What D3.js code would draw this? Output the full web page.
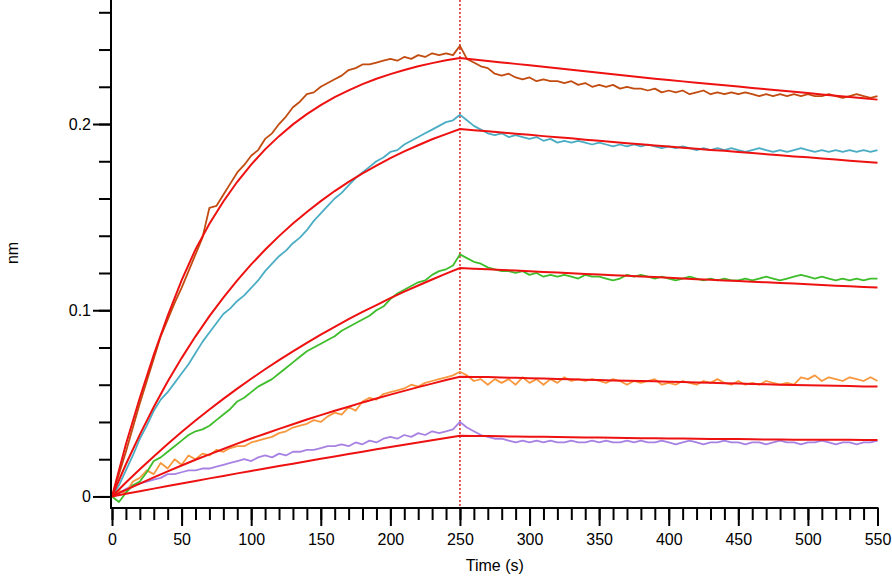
<!DOCTYPE html>
<html>
<head>
<meta charset="utf-8">
<script src="https://cdn.jsdelivr.net/npm/d3@7"></script>
<style>
    body { margin: 0; background: #fff; }
    svg text { font-family: "Liberation Sans", Arial, sans-serif; fill: #000; }
</style>
</head>
<body>
<div id="chart"></div>
<script>
// sampling grids (s)
const dataTimes = d3.range(0, 551, 5);
const fitTimes = d3.range(0, 551, 10);

// measured response (nm), one value every 5 s
const brownData = [0.000, 0.012, 0.024, 0.037, 0.050, 0.062, 0.074, 0.086, 0.095, 0.104,
    0.112, 0.121, 0.130, 0.139, 0.155, 0.156, 0.162, 0.168, 0.174, 0.178,
    0.183, 0.186, 0.192, 0.195, 0.200, 0.204, 0.209, 0.212, 0.216, 0.217,
    0.220, 0.222, 0.224, 0.226, 0.229, 0.230, 0.232, 0.232, 0.233, 0.234,
    0.235, 0.234, 0.236, 0.235, 0.237, 0.236, 0.238, 0.237, 0.238, 0.237,
    0.242, 0.235, 0.233, 0.231, 0.230, 0.227, 0.226, 0.227, 0.225, 0.224,
    0.225, 0.223, 0.224, 0.223, 0.223, 0.222, 0.223, 0.221, 0.222, 0.220,
    0.221, 0.220, 0.221, 0.219, 0.220, 0.219, 0.219, 0.218, 0.219, 0.217,
    0.218, 0.217, 0.218, 0.216, 0.217, 0.218, 0.216, 0.217, 0.216, 0.217,
    0.216, 0.217, 0.216, 0.215, 0.216, 0.215, 0.216, 0.215, 0.216, 0.215,
    0.216, 0.215, 0.215, 0.216, 0.215, 0.214, 0.215, 0.216, 0.215, 0.214, 0.215];

const cyanData = [0.000, 0.006, 0.014, 0.022, 0.031, 0.038, 0.046, 0.052, 0.056, 0.061,
    0.066, 0.071, 0.077, 0.083, 0.088, 0.093, 0.098, 0.101, 0.105, 0.108,
    0.112, 0.116, 0.121, 0.125, 0.129, 0.132, 0.136, 0.139, 0.143, 0.148,
    0.152, 0.156, 0.160, 0.163, 0.167, 0.171, 0.174, 0.177, 0.180, 0.182,
    0.185, 0.186, 0.189, 0.191, 0.193, 0.195, 0.197, 0.199, 0.201, 0.202,
    0.205, 0.202, 0.199, 0.197, 0.195, 0.194, 0.195, 0.193, 0.194, 0.193,
    0.192, 0.193, 0.191, 0.192, 0.190, 0.191, 0.190, 0.191, 0.190, 0.189,
    0.190, 0.189, 0.188, 0.189, 0.188, 0.189, 0.188, 0.189, 0.188, 0.187,
    0.188, 0.187, 0.188, 0.187, 0.186, 0.187, 0.186, 0.187, 0.186, 0.187,
    0.186, 0.185, 0.186, 0.187, 0.186, 0.185, 0.186, 0.185, 0.186, 0.187,
    0.186, 0.185, 0.186, 0.185, 0.186, 0.185, 0.186, 0.185, 0.186, 0.185, 0.186];

const greenData = [0.000, -0.003, 0.002, 0.006, 0.008, 0.013, 0.019, 0.021, 0.024, 0.027,
    0.030, 0.033, 0.035, 0.036, 0.038, 0.041, 0.044, 0.047, 0.051, 0.053,
    0.056, 0.059, 0.061, 0.063, 0.066, 0.069, 0.072, 0.075, 0.078, 0.080,
    0.082, 0.084, 0.086, 0.089, 0.091, 0.093, 0.095, 0.097, 0.100, 0.102,
    0.106, 0.109, 0.111, 0.113, 0.115, 0.116, 0.119, 0.121, 0.122, 0.124,
    0.130, 0.128, 0.126, 0.125, 0.123, 0.122, 0.121, 0.121, 0.120, 0.121,
    0.119, 0.120, 0.118, 0.119, 0.118, 0.119, 0.118, 0.117, 0.119, 0.118,
    0.118, 0.117, 0.116, 0.117, 0.119, 0.118, 0.119, 0.118, 0.117, 0.118,
    0.117, 0.116, 0.117, 0.118, 0.117, 0.116, 0.117, 0.116, 0.117, 0.116,
    0.116, 0.117, 0.116, 0.117, 0.118, 0.117, 0.116, 0.117, 0.118, 0.119,
    0.118, 0.117, 0.118, 0.117, 0.116, 0.117, 0.116, 0.117, 0.116, 0.117, 0.117];

const orangeData = [0.000, 0.003, 0.002, 0.008, 0.010, 0.014, 0.012, 0.018, 0.015, 0.020,
    0.017, 0.022, 0.020, 0.023, 0.022, 0.025, 0.024, 0.026, 0.027, 0.027,
    0.029, 0.030, 0.031, 0.032, 0.034, 0.035, 0.037, 0.038, 0.039, 0.041,
    0.040, 0.043, 0.045, 0.044, 0.048, 0.046, 0.051, 0.053, 0.052, 0.055,
    0.056, 0.057, 0.058, 0.060, 0.059, 0.061, 0.062, 0.063, 0.064, 0.065,
    0.067, 0.065, 0.062, 0.063, 0.060, 0.063, 0.061, 0.063, 0.060, 0.064,
    0.061, 0.063, 0.060, 0.063, 0.061, 0.064, 0.062, 0.063, 0.062, 0.063,
    0.062, 0.061, 0.063, 0.062, 0.060, 0.062, 0.061, 0.062, 0.063, 0.060,
    0.061, 0.060, 0.062, 0.061, 0.060, 0.062, 0.061, 0.063, 0.061, 0.060,
    0.062, 0.060, 0.061, 0.060, 0.062, 0.061, 0.060, 0.061, 0.060, 0.064,
    0.063, 0.065, 0.062, 0.064, 0.063, 0.062, 0.064, 0.063, 0.062, 0.064, 0.062];

const purpleData = [0.000, 0.002, 0.004, 0.006, 0.007, 0.008, 0.009, 0.010, 0.012, 0.012,
    0.013, 0.014, 0.014, 0.015, 0.015, 0.016, 0.017, 0.018, 0.019, 0.020,
    0.019, 0.021, 0.022, 0.021, 0.023, 0.022, 0.024, 0.024, 0.025, 0.025,
    0.026, 0.027, 0.027, 0.028, 0.027, 0.029, 0.028, 0.030, 0.029, 0.031,
    0.032, 0.031, 0.033, 0.032, 0.034, 0.033, 0.035, 0.034, 0.035, 0.036,
    0.040, 0.037, 0.035, 0.033, 0.032, 0.031, 0.031, 0.030, 0.029, 0.030,
    0.029, 0.030, 0.029, 0.030, 0.029, 0.029, 0.030, 0.029, 0.029, 0.030,
    0.029, 0.030, 0.029, 0.029, 0.030, 0.029, 0.030, 0.029, 0.029, 0.030,
    0.029, 0.028, 0.029, 0.030, 0.029, 0.028, 0.029, 0.029, 0.030, 0.029,
    0.029, 0.028, 0.029, 0.029, 0.028, 0.029, 0.030, 0.029, 0.029, 0.028,
    0.029, 0.029, 0.030, 0.029, 0.028, 0.029, 0.029, 0.028, 0.029, 0.029, 0.030];

// fitted curves (nm), one value every 10 s
const brownFit = [0, 0.028, 0.053, 0.076, 0.097, 0.116, 0.1327, 0.1464, 0.1584, 0.1690,
    0.1782, 0.1864, 0.1935, 0.1998, 0.2053, 0.2101, 0.2144, 0.2181, 0.2214, 0.2243,
    0.2268, 0.2290, 0.2310, 0.2327, 0.2342, 0.2355, 0.2347, 0.2339, 0.2331, 0.2323,
    0.2315, 0.2307, 0.2299, 0.2291, 0.2283, 0.2275, 0.2267, 0.2259, 0.2251, 0.2243,
    0.2236, 0.2229, 0.2222, 0.2215, 0.2208, 0.2201, 0.2194, 0.2187, 0.2180, 0.2173,
    0.2166, 0.2159, 0.2152, 0.2145, 0.2138, 0.2131];

const cyanFit = [0, 0.0173, 0.0332, 0.0480, 0.0617, 0.0743, 0.0860, 0.0968, 0.1068, 0.1160,
    0.1246, 0.1325, 0.1398, 0.1466, 0.1528, 0.1586, 0.1640, 0.1689, 0.1735, 0.1777,
    0.1817, 0.1853, 0.1886, 0.1918, 0.1946, 0.1973, 0.1967, 0.1961, 0.1954, 0.1948,
    0.1942, 0.1935, 0.1929, 0.1923, 0.1916, 0.1910, 0.1904, 0.1897, 0.1891, 0.1885,
    0.1879, 0.1873, 0.1867, 0.1861, 0.1856, 0.1850, 0.1844, 0.1838, 0.1832, 0.1826,
    0.1821, 0.1815, 0.1809, 0.1803, 0.1798, 0.1792];

const greenFit = [0, 0.0075, 0.0146, 0.0215, 0.0282, 0.0346, 0.0408, 0.0467, 0.0524, 0.0579,
    0.0632, 0.0683, 0.0732, 0.0779, 0.0825, 0.0869, 0.0911, 0.0952, 0.0991, 0.1028,
    0.1065, 0.1100, 0.1133, 0.1165, 0.1197, 0.1227, 0.1223, 0.1220, 0.1216, 0.1213,
    0.1209, 0.1206, 0.1202, 0.1199, 0.1195, 0.1192, 0.1188, 0.1185, 0.1181, 0.1178,
    0.1174, 0.1171, 0.1167, 0.1164, 0.1160, 0.1157, 0.1153, 0.1150, 0.1146, 0.1143,
    0.1139, 0.1136, 0.1132, 0.1129, 0.1125, 0.1122];

const orangeFit = [0, 0.0035, 0.0069, 0.0102, 0.0135, 0.0166, 0.0197, 0.0226, 0.0255, 0.0284,
    0.0311, 0.0337, 0.0363, 0.0388, 0.0413, 0.0437, 0.0460, 0.0482, 0.0505, 0.0526,
    0.0547, 0.0567, 0.0587, 0.0606, 0.0625, 0.0643, 0.0642, 0.0641, 0.0639, 0.0637,
    0.0635, 0.0633, 0.0631, 0.0629, 0.0627, 0.0625, 0.0623, 0.0621, 0.0620, 0.0618,
    0.0616, 0.0614, 0.0612, 0.0610, 0.0608, 0.0606, 0.0604, 0.0602, 0.0600, 0.0599,
    0.0597, 0.0596, 0.0594, 0.0593, 0.0591, 0.0590];

const purpleFit = [0, 0.0014, 0.0028, 0.0042, 0.0056, 0.0070, 0.0083, 0.0097, 0.0110, 0.0124,
    0.0137, 0.0150, 0.0163, 0.0176, 0.0189, 0.0202, 0.0215, 0.0228, 0.0240, 0.0253,
    0.0265, 0.0278, 0.0290, 0.0302, 0.0314, 0.0326, 0.0325, 0.0324, 0.0323, 0.0322,
    0.0321, 0.0320, 0.0319, 0.0318, 0.0317, 0.0316, 0.0315, 0.0314, 0.0313, 0.0312,
    0.0311, 0.0311, 0.0310, 0.0309, 0.0308, 0.0308, 0.0307, 0.0306, 0.0306, 0.0305,
    0.0305, 0.0304, 0.0304, 0.0304, 0.0303, 0.0303];

const dataSeries = [purpleData, orangeData, greenData, cyanData, brownData];
const dataColors = ["#a882e3", "#f7983f", "#3fbd2c", "#4badc4", "#c24b10"];
const fitSeries = [purpleFit, orangeFit, greenFit, cyanFit, brownFit];

const xMajorTicks = [0, 50, 100, 150, 200, 250, 300, 350, 400, 450, 500, 550];
const yMajorTicks = [0, 0.1, 0.2];
const yMinorTicks = [0, 0.02, 0.04, 0.06, 0.08, 0.1, 0.12, 0.14, 0.16, 0.18, 0.2, 0.22, 0.24, 0.26];
const injectionEnd = 250;

const width = 892;
const height = 577;
const axisX = 111;
const axisY = 508;

const svg = d3.select('#chart').append('svg')
    .attr('width', width)
    .attr('height', height);

const x = d3.scaleLinear().domain([0, 550]).range([112, 877.5]);
const y = d3.scaleLinear().domain([-0.0062, 0.2666]).range([axisY, 0]);

// dotted marker at end of association
svg.append('line')
    .attr('x1', x(injectionEnd)).attr('x2', x(injectionEnd))
    .attr('y1', 0).attr('y2', axisY)
    .attr('stroke', '#d40000')
    .attr('stroke-width', 1.3)
    .attr('stroke-dasharray', '2,2');

// measured traces
dataSeries.forEach((values, i) => {
    svg.append('path')
        .datum(values)
        .attr('fill', 'none')
        .attr('stroke', dataColors[i])
        .attr('stroke-width', 1.8)
        .attr('stroke-linejoin', 'round')
        .attr('d', d3.line()
            .x((d, j) => x(dataTimes[j]))
            .y((d) => y(d)));
});

// fitted curves on top
fitSeries.forEach((values) => {
    svg.append('path')
        .datum(values)
        .attr('fill', 'none')
        .attr('stroke', '#ee1111')
        .attr('stroke-width', 2)
        .attr('d', d3.line()
            .x((d, j) => x(fitTimes[j]))
            .y((d) => y(d)));
});

// x axis: minor ticks every 10 s, major every 50 s
const xMinor = svg.append('g')
    .attr('transform', 'translate(0,' + axisY + ')')
    .call(d3.axisBottom(x).tickValues(fitTimes).tickSize(12).tickFormat(''));
const xMajor = svg.append('g')
    .attr('transform', 'translate(0,' + axisY + ')')
    .call(d3.axisBottom(x).tickValues(xMajorTicks).tickSize(18).tickPadding(8).tickFormat(d3.format('d')));

// y axis
const yMinor = svg.append('g')
    .attr('transform', 'translate(' + axisX + ',0)')
    .call(d3.axisLeft(y).tickValues(yMinorTicks).tickSize(12).tickFormat(''));
const yMajor = svg.append('g')
    .attr('transform', 'translate(' + axisX + ',0)')
    .call(d3.axisLeft(y).tickValues(yMajorTicks).tickSize(18).tickPadding(2)
        .tickFormat((d) => d === 0 ? '0' : d3.format('.1f')(d)));

[xMinor, xMajor, yMinor, yMajor].forEach((g) => {
    g.select('.domain').remove();
    g.selectAll('line').attr('stroke', '#000').attr('stroke-width', 2);
    g.selectAll('text').attr('font-size', 16).attr('fill', '#000');
});

// axis lines
svg.append('line')
    .attr('x1', axisX).attr('x2', x(550) + 1)
    .attr('y1', axisY).attr('y2', axisY)
    .attr('stroke', '#000').attr('stroke-width', 2);
svg.append('line')
    .attr('x1', axisX).attr('x2', axisX)
    .attr('y1', 0).attr('y2', axisY + 1)
    .attr('stroke', '#000').attr('stroke-width', 2);

// axis titles
svg.append('text')
    .attr('x', (x(0) + x(550)) / 2)
    .attr('y', 571)
    .attr('text-anchor', 'middle')
    .attr('font-size', 16)
    .text('Time (s)');

svg.append('text')
    .attr('transform', 'translate(18,253) rotate(-90)')
    .attr('text-anchor', 'middle')
    .attr('font-size', 16)
    .text('nm');
</script>
</body>
</html>
